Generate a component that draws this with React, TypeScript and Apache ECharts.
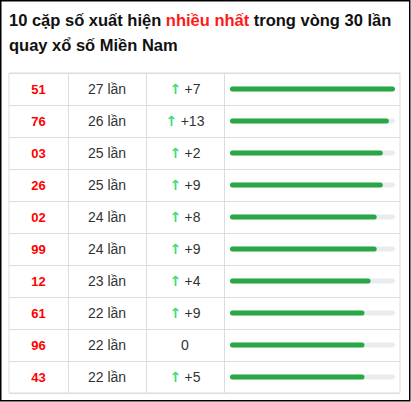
import React, { useRef, useEffect } from 'react';
import * as echarts from 'echarts';

const pairs = ['51', '76', '03', '26', '02', '99', '12', '61', '96', '43'];
const counts = [27, 26, 25, 25, 24, 24, 23, 22, 22, 22];
const changes = [7, 13, 2, 9, 8, 9, 4, 9, 0, 5];

const FONT = '"Liberation Sans", Arial, Helvetica, sans-serif';
const LINE = '#dddddd';

export default function App() {
  const chartRef = useRef<HTMLDivElement>(null);

  useEffect(() => {
    if (!chartRef.current) return;
    const chart = echarts.init(chartRef.current, undefined, { renderer: 'svg' });
    const maxCount = Math.max(...counts);
    // x scale: 0 sits at x=230, max at x=395, grid spans 9..400
    const pxPerUnit = 165 / maxCount;
    const xMin = -221 / pxPerUnit;
    const xMax = maxCount + 5 / pxPerUnit;

    const catAxis = (margin: number, formatter: (v: string, i: number) => string, rich: any, extra: any = {}) => ({
      type: 'category',
      data: pairs,
      inverse: true,
      position: 'left',
      axisLine: { show: false },
      axisTick: { show: false },
      splitLine: { show: false },
      axisLabel: { inside: true, margin, align: 'center', interval: 0, formatter, rich },
      ...extra,
    });

    const option: any = {
      animation: false,
      backgroundColor: '#fff',
      title: {
        left: 4,
        top: 2,
        text: '{a|10 cặp số xuất hiện }{r|nhiều nhất}{a| trong vòng 30 lần}\n{a|quay xổ số Miền Nam}',
        textStyle: {
          rich: {
            a: { fontFamily: FONT, fontSize: 16.5, fontWeight: 'bold', color: '#111', lineHeight: 25 },
            r: { fontFamily: FONT, fontSize: 16.5, fontWeight: 'bold', color: '#ff1a1a', lineHeight: 25 },
          },
        },
      },
      grid: { left: 9, top: 73, width: 391, height: 320, show: true, borderColor: LINE, borderWidth: 1, containLabel: false },
      xAxis: { type: 'value', min: xMin, max: xMax, show: false },
      yAxis: [
        catAxis(
          29.5,
          (v) => `{n|${v}}`,
          { n: { fontFamily: FONT, fontSize: 13, fontWeight: 'bold', color: '#ff0000' } },
          { splitLine: { show: true, interval: 0, lineStyle: { color: LINE, width: 1 } } },
        ),
        catAxis(
          98,
          (_v, i) => `{c|${counts[i]} lần}`,
          { c: { fontFamily: FONT, fontSize: 14, color: '#333' } },
        ),
        catAxis(
          176,
          (_v, i) => (changes[i] > 0 ? `{g|↑} {t|+${changes[i]}}` : `{t|${changes[i]}}`),
          {
            g: { fontFamily: '"DejaVu Sans", sans-serif', fontSize: 14, color: '#3ddc7a', fontWeight: 'bold' },
            t: { fontFamily: FONT, fontSize: 14, color: '#333' },
          },
        ),
      ],
      graphic: [
        ...[68, 146, 224].map((x) => ({
          type: 'line',
          shape: { x1: x + 0.5, y1: 73, x2: x + 0.5, y2: 393 },
          style: { stroke: LINE, lineWidth: 1 },
          silent: true,
        })),
        {
          type: 'rect',
          shape: { x: 0.75, y: 0.75, width: 409, height: 400 },
          style: { fill: 'none', stroke: '#000', lineWidth: 1.5 },
          silent: true,
        },
      ],
      series: [
        {
          type: 'bar',
          yAxisIndex: 0,
          data: counts.map(() => maxCount),
          barWidth: 5,
          barGap: '-100%',
          itemStyle: { color: '#e9ecef', borderRadius: 3 },
          silent: true,
          z: 1,
        },
        {
          type: 'bar',
          yAxisIndex: 0,
          data: counts,
          barWidth: 5,
          itemStyle: { color: '#28a745', borderRadius: 3 },
          z: 2,
        },
      ],
    };

    chart.setOption(option);
    return () => chart.dispose();
  }, []);

  return (
    <div
      ref={chartRef}
      style={{ position: 'fixed', left: 0, top: 0, width: 411, height: 402, background: '#fff' }}
    />
  );
}
